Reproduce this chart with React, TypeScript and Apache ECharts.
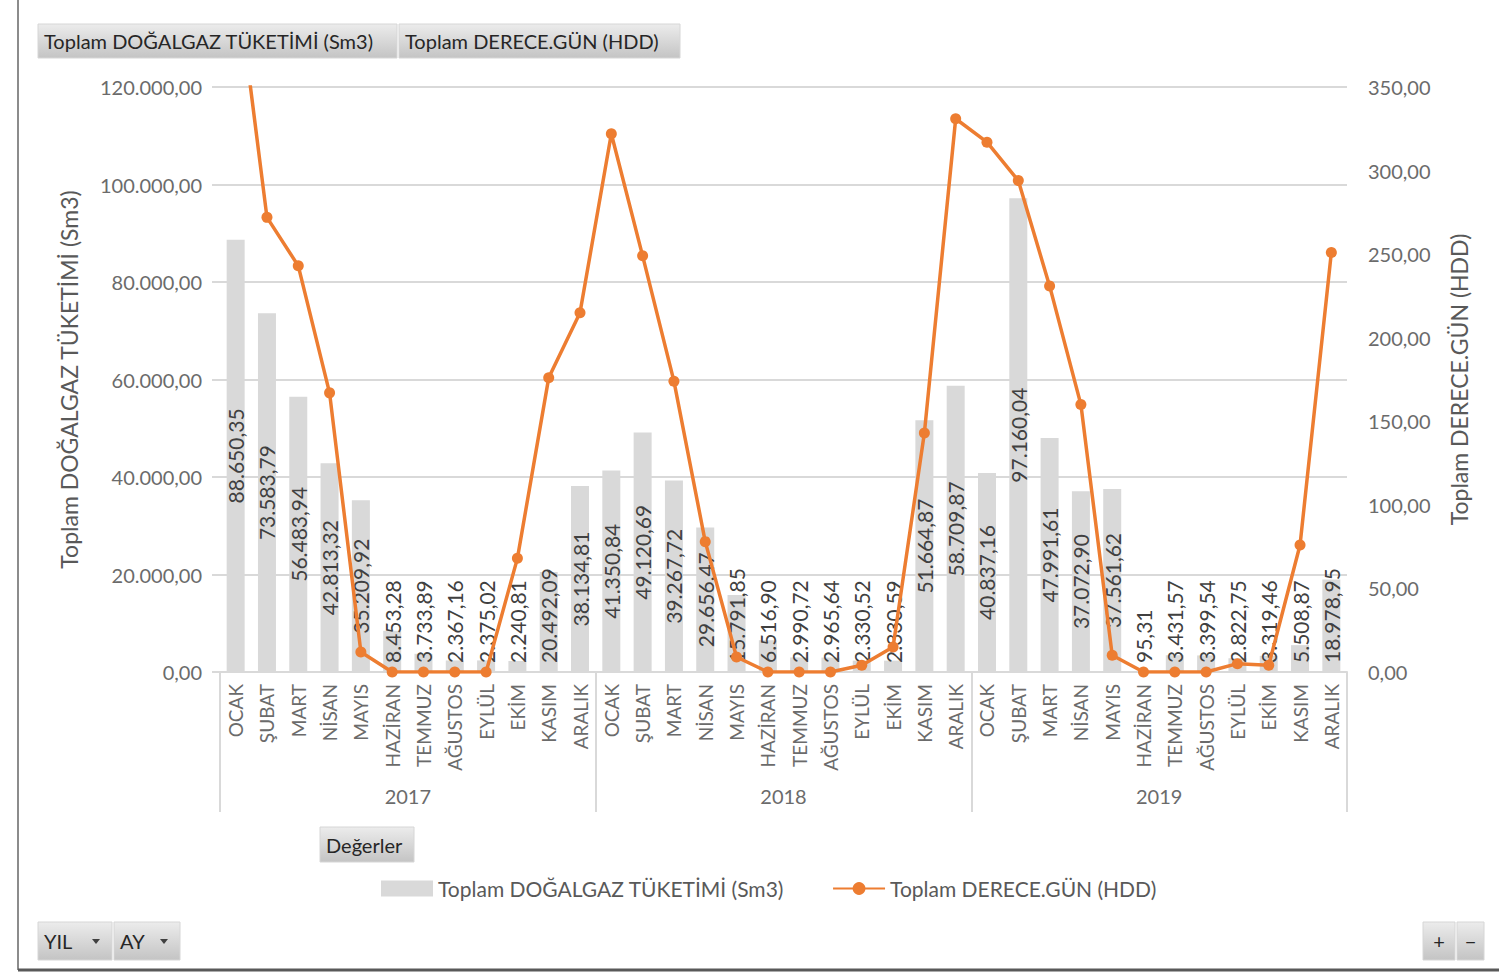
import React, { useEffect, useRef } from "react";
import * as echarts from "echarts";

const MONTHS = ["OCAK", "ŞUBAT", "MART", "NİSAN", "MAYIS", "HAZİRAN", "TEMMUZ", "AĞUSTOS", "EYLÜL", "EKİM", "KASIM", "ARALIK"];
const YEARS = ["2017", "2018", "2019"];

const GAS_2017 = [88650.35, 73583.79, 56483.94, 42813.32, 35209.92, 8453.28, 3733.89, 2367.16, 2375.02, 2240.81, 20492.09, 38134.81];
const GAS_2018 = [41350.84, 49120.69, 39267.72, 29656.47, 15791.85, 6516.9, 2990.72, 2965.64, 2330.52, 2330.59, 51664.87, 58709.87];
const GAS_2019 = [40837.16, 97160.04, 47991.61, 37072.9, 37561.62, 95.31, 3431.57, 3399.54, 2822.75, 3319.46, 5508.87, 18978.95];

const HDD_2017 = [420, 272, 243, 167, 12, 0, 0, 0, 0, 68, 176, 215];
const HDD_2018 = [322, 249, 174, 78, 9, 0, 0, 0, 4, 15, 143, 331];
const HDD_2019 = [317, 294, 231, 160, 10, 0, 0, 0, 5, 4, 76, 251];

const GAS_NAME = "Toplam DOĞALGAZ TÜKETİMİ (Sm3)";
const HDD_NAME = "Toplam DERECE.GÜN (HDD)";

const FONT = "Lato, 'Open Sans', sans-serif";

const W = 1499;
const H = 976;
const GRID_BOTTOM = 304;

function fmt(v: number): string {
  const fixed = v.toFixed(2);
  const [i, d] = fixed.split(".");
  return i.replace(/\B(?=(\d{3})+(?!\d))/g, ".") + "," + d;
}

function btnFill() {
  return new echarts.graphic.LinearGradient(0, 0, 0, 1, [
    { offset: 0, color: "#ececec" },
    { offset: 1, color: "#c4c4c4" },
  ]);
}

function button(x: number, y: number, w: number, h: number, text: string, align: string = "left", arrow = false): any {
  const children: any[] = [
    { type: "rect", shape: { x: 0, y: 0, width: w, height: h }, style: { fill: btnFill(), stroke: "#d6d6d6", lineWidth: 1 } },
    {
      type: "text",
      x: align === "left" ? 6 : w / 2,
      y: h / 2,
      style: {
        text,
        fill: "#262626",
        font: `20px ${FONT}`,
        align: align === "left" ? "left" : "center",
        verticalAlign: "middle",
      },
    },
  ];
  if (arrow) {
    children.push({
      type: "polygon",
      shape: { points: [[w - 20, h / 2 - 2], [w - 12, h / 2 - 2], [w - 16, h / 2 + 3]] },
      style: { fill: "#404040" },
    });
  }
  return { type: "group", x, y, children };
}

export default function App() {
  const ref = useRef<HTMLDivElement>(null);

  useEffect(() => {
    if (!ref.current) return;
    const chart = echarts.init(ref.current, undefined, { renderer: "svg" });
    const cats: string[] = [...MONTHS, ...MONTHS, ...MONTHS];
    const gas = [...GAS_2017, ...GAS_2018, ...GAS_2019];
    const hdd = [...HDD_2017, ...HDD_2018, ...HDD_2019];
    const labelLimit = H - GRID_BOTTOM - 9;

    const option: any = {
      animation: false,
      backgroundColor: "#ffffff",
      textStyle: { fontFamily: FONT },
      grid: { left: 220, right: 152, top: 87, bottom: GRID_BOTTOM, containLabel: false },
      legend: {
        left: 376,
        top: 873,
        itemWidth: 52,
        itemHeight: 16,
        itemGap: 48,
        textStyle: { fontSize: 21, color: "#595959", fontFamily: FONT },
        data: [
          { name: GAS_NAME, icon: "rect" },
          { name: HDD_NAME },
        ],
      },
      xAxis: [
        {
          type: "category",
          data: cats,
          position: "bottom",
          boundaryGap: true,
          axisLine: { show: true, lineStyle: { color: "#d9d9d9", width: 2 } },
          axisTick: { show: false },
          axisLabel: { interval: 0, rotate: 90, margin: 12, fontSize: 19, color: "#6b6b6b", fontFamily: FONT },
        },
        {
          type: "category",
          data: YEARS,
          position: "bottom",
          boundaryGap: true,
          axisLine: { show: false },
          axisTick: { show: true, length: 140, lineStyle: { color: "#d9d9d9", width: 2 } },
          axisLabel: { margin: 114, fontSize: 20, color: "#6b6b6b", fontFamily: FONT },
        },
      ],
      yAxis: [
        {
          type: "value",
          min: 0,
          max: 120000,
          interval: 20000,
          name: GAS_NAME,
          nameLocation: "middle",
          nameRotate: 90,
          nameGap: 140,
          nameTextStyle: { fontSize: 23, color: "#595959", fontFamily: FONT },
          axisLine: { show: false },
          axisTick: { show: true, length: 8, lineStyle: { color: "#d9d9d9", width: 2 } },
          axisLabel: { formatter: (v: number) => fmt(v), fontSize: 20, color: "#6b6b6b", margin: 18, fontFamily: FONT },
          splitLine: { show: true, lineStyle: { color: "#d9d9d9", width: 2 } },
        },
        {
          type: "value",
          min: 0,
          max: 350,
          interval: 50,
          name: HDD_NAME,
          nameLocation: "middle",
          nameRotate: 90,
          nameGap: 100,
          nameTextStyle: { fontSize: 23, color: "#595959", fontFamily: FONT },
          axisLine: { show: false },
          axisTick: { show: false },
          axisLabel: { formatter: (v: number) => fmt(v), fontSize: 20, color: "#6b6b6b", margin: 21, fontFamily: FONT },
          splitLine: { show: false },
        },
      ],
      series: [
        {
          name: GAS_NAME,
          type: "bar",
          xAxisIndex: 0,
          yAxisIndex: 0,
          data: gas,
          barWidth: 18,
          itemStyle: { color: "#d9d9d9" },
          label: {
            show: true,
            position: "inside",
            rotate: 90,
            formatter: (p: any) => fmt(p.value),
            fontSize: 21,
            color: "#404040",
            fontFamily: FONT,
          },
          labelLayout: (params: any) => {
            const r = params.labelRect;
            if (r && r.y + r.height > labelLimit) {
              return { x: r.x, y: labelLimit };
            }
            return {};
          },
          z: 2,
        },
        {
          name: HDD_NAME,
          type: "line",
          xAxisIndex: 0,
          yAxisIndex: 1,
          data: hdd,
          clip: true,
          symbol: "circle",
          symbolSize: 11,
          lineStyle: { color: "#ED7D31", width: 3.5 },
          itemStyle: { color: "#ED7D31" },
          z: 5,
        },
      ],
      graphic: [
        { type: "line", shape: { x1: 18, y1: 0, x2: 18, y2: 970 }, style: { stroke: "#8c8c8c", lineWidth: 2 } },
        { type: "line", shape: { x1: 18, y1: 970, x2: W, y2: 970 }, style: { stroke: "#595959", lineWidth: 3 } },
        button(38, 24, 359, 34, GAS_NAME),
        button(399, 24, 281, 34, HDD_NAME),
        button(320, 827, 94, 35, "Değerler"),
        button(38, 922, 74, 38, "YIL", "left", true),
        button(114, 922, 66, 38, "AY", "left", true),
        button(1423, 922, 32, 38, "+", "center"),
        button(1457, 922, 27, 38, "−", "center"),
      ],
    };
    chart.setOption(option);
    return () => chart.dispose();
  }, []);

  return (
    <div
      ref={ref}
      style={{ position: "fixed", left: 0, top: 0, width: W, height: H, background: "#fff" }}
    />
  );
}
